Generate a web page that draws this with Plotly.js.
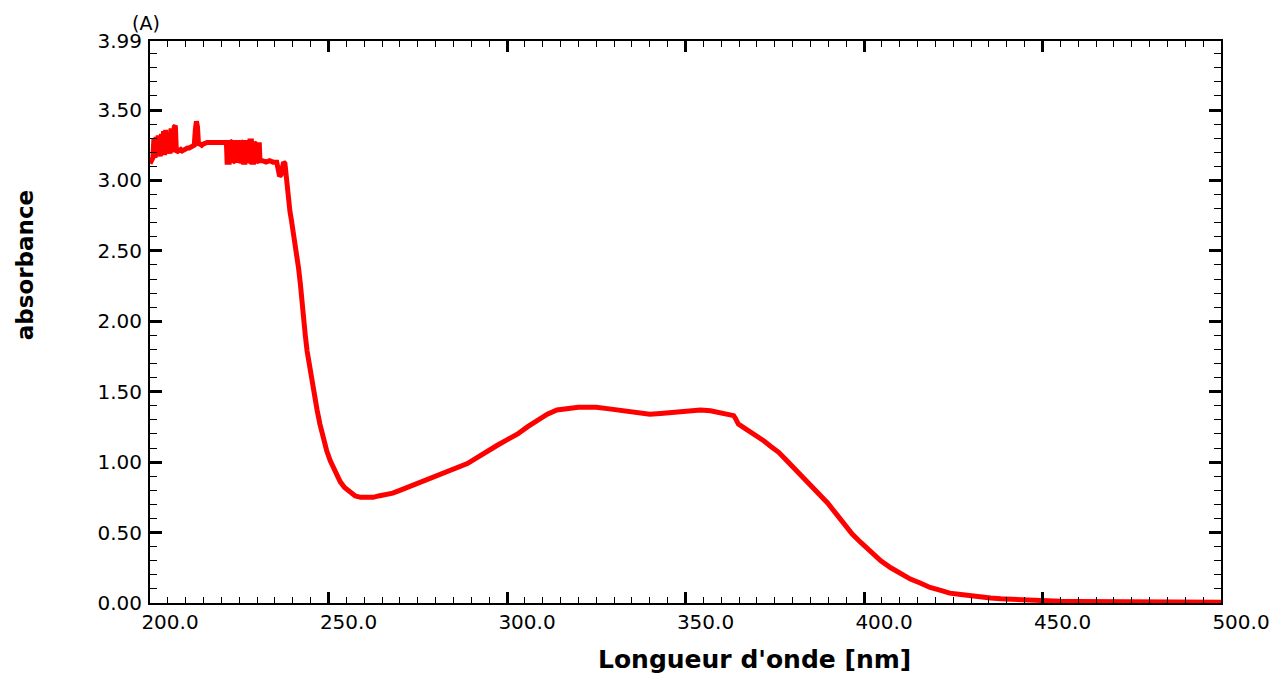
<!DOCTYPE html>
<html>
<head>
<meta charset="utf-8">
<script src="https://cdn.plot.ly/plotly-3.0.1.min.js"></script>
<style>
html,body{margin:0;padding:0;background:#fff;}
#chart{width:1270px;height:673px;}
</style>
</head>
<body>
<div id="chart"></div>
<script>
// Wavelength (nm)
const wavelength = [
 200.0,200.4,200.8,201.1,201.4,201.7,202.0,202.3,202.6,202.9,203.2,203.5,203.8,204.1,204.4,204.7,
 205.0,205.3,205.6,205.9,206.2,206.5,206.8,207.1,207.4,207.8,208.2,208.6,209.0,209.5,210.0,210.5,
 211.0,211.5,212.0,212.4,212.7,213.0,213.3,213.6,214.0,214.5,215.0,216.0,217.0,218.0,219.0,220.0,
 221.0,221.4,221.6,222.2,222.4,223.0,223.2,223.8,224.0,224.6,224.8,225.2,225.4,226.0,226.2,226.6,
 226.8,227.2,227.4,227.8,228.0,228.4,228.6,229.0,229.2,229.6,229.8,230.4,230.6,230.8,231.5,232.5,
 233.5,234.5,235.5,236.0,236.3,236.7,237.0,237.4,237.8,238.2,238.5,238.8,239.2,239.6,240.0,240.6,
 241.2,241.6,242.1,242.5,242.9,243.5,244.0,244.7,245.4,246.0,246.8,247.6,248.5,249.5,250.5,251.5,
 252.5,253.3,254.5,256.0,257.5,259.0,260.8,262.5,264.0,266.0,268.0,270.0,272.0,275.0,277.7,280.5,
 283.3,286.0,288.9,291.5,294.5,297.3,300.1,303.0,305.7,308.5,311.3,314.0,316.9,320.0,322.5,325.0,
 328.1,331.0,333.7,337.0,340.0,343.0,346.6,350.0,354.2,357.0,359.8,362.0,363.5,364.0,364.8,366.0,
 368.0,370.0,372.0,374.0,376.1,378.0,380.3,382.5,385.0,387.5,389.8,392.0,394.3,396.7,399.1,401.8,
 404.7,407.5,410.3,413.0,415.9,418.5,421.5,424.0,427.1,430.0,432.7,435.5,438.3,442.0,445.9,450.0,
 455.0,460.0,470.0,480.0,490.0,500.0
];
// Absorbance
const absorbance = [
 3.12,3.15,3.16,3.30,3.16,3.31,3.17,3.32,3.17,3.17,3.33,3.18,3.35,3.18,3.36,3.19,
 3.34,3.19,3.19,3.37,3.20,3.20,3.38,3.39,3.20,3.21,3.21,3.22,3.21,3.22,3.22,3.23,
 3.23,3.24,3.24,3.25,3.36,3.42,3.38,3.25,3.26,3.25,3.26,3.27,3.27,3.27,3.27,3.27,
 3.27,3.27,3.13,3.13,3.28,3.27,3.13,3.14,3.27,3.27,3.13,3.14,3.28,3.26,3.13,3.13,
 3.27,3.27,3.13,3.14,3.28,3.28,3.13,3.13,3.27,3.26,3.13,3.14,3.27,3.14,3.14,3.13,
 3.14,3.13,3.13,3.08,3.03,3.04,3.10,3.13,3.12,3.00,2.90,2.84,2.78,2.72,2.65,2.59,
 2.50,2.38,2.27,2.14,2.02,1.90,1.79,1.67,1.57,1.47,1.37,1.27,1.17,1.08,1.01,0.95,
 0.90,0.86,0.82,0.79,0.76,0.75,0.75,0.75,0.76,0.77,0.78,0.80,0.82,0.85,0.87,0.90,
 0.93,0.96,0.99,1.03,1.08,1.12,1.16,1.20,1.25,1.30,1.34,1.37,1.38,1.39,1.39,1.39,
 1.38,1.37,1.365,1.35,1.34,1.345,1.355,1.36,1.37,1.365,1.35,1.34,1.33,1.31,1.27,1.25,
 1.22,1.18,1.15,1.11,1.07,1.02,0.96,0.90,0.83,0.77,0.71,0.64,0.56,0.49,0.43,0.37,
 0.30,0.25,0.21,0.17,0.14,0.11,0.09,0.07,0.06,0.05,0.04,0.035,0.03,0.025,0.02,0.015,
 0.012,0.01,0.008,0.007,0.006,0.005
];
// Tick labels
const yTickVals = [0, 0.5, 1.0, 1.5, 2.0, 2.5, 3.0, 3.5, 3.99];
const yTickText = ["0.00","0.50","1.00","1.50","2.00","2.50","3.00","3.50","3.99"];
const xTickVals = [200, 250, 300, 350, 400, 450, 500];
const xTickText = ["200.0","250.0","300.0","350.0","400.0","450.0","500.0"];

const tickFont = {family: "DejaVu Sans", size: 20, color: "#000"};

const trace = {
  x: wavelength, y: absorbance,
  type: "scatter", mode: "lines",
  line: {color: "#ff0000", width: 5},
  hoverinfo: "x+y"
};

const layout = {
  width: 1270, height: 673,
  margin: {l: 150, r: 49, t: 41, b: 70, pad: 0},
  paper_bgcolor: "#fff", plot_bgcolor: "#fff",
  showlegend: false,
  xaxis: {
    range: [200, 500],
    tickmode: "array", tickvals: xTickVals, ticktext: xTickText,
    ticks: "inside", ticklen: 11, tickwidth: 3, tickcolor: "#000",
    minor: {tickmode: "linear", tick0: 200, dtick: 5, ticks: "inside", ticklen: 6, tickwidth: 1, tickcolor: "#000", showgrid: false},
    showline: true, linecolor: "#000", linewidth: 2, mirror: "allticks",
    showgrid: false, zeroline: false,
    tickfont: tickFont, ticklabelshift: 20, ticklabelstandoff: 0
  },
  yaxis: {
    range: [0, 3.99],
    tickmode: "array", tickvals: yTickVals, ticktext: yTickText,
    ticks: "inside", ticklen: 12, tickwidth: 3, tickcolor: "#000",
    minor: {tickmode: "linear", tick0: 0, dtick: 0.1, ticks: "inside", ticklen: 7, tickwidth: 1, tickcolor: "#000", showgrid: false},
    showline: true, linecolor: "#000", linewidth: 2, mirror: "allticks",
    showgrid: false, zeroline: false,
    tickfont: tickFont, ticklabelstandoff: 2
  },
  annotations: [
    {text: "absorbance", xref: "paper", yref: "paper", x: -0.1167, y: 0.601,
     textangle: -90, showarrow: false, xanchor: "center", yanchor: "middle",
     font: {family: "DejaVu Sans", size: 23, color: "#000", weight: "bold"}},
    {text: "Longueur d'onde [nm]", xref: "paper", yref: "paper", x: 0.564, y: -0.101,
     showarrow: false, xanchor: "center", yanchor: "middle",
     font: {family: "DejaVu Sans", size: 25, color: "#000", weight: "bold"}},
    {text: "(A)", xref: "paper", yref: "paper", x: -0.004, y: 1.032,
     showarrow: false, xanchor: "center", yanchor: "middle",
     font: {family: "DejaVu Sans", size: 19, color: "#000"}}
  ]
};

Plotly.newPlot("chart", [trace], layout, {displayModeBar: false, staticPlot: true});
</script>
</body>
</html>
